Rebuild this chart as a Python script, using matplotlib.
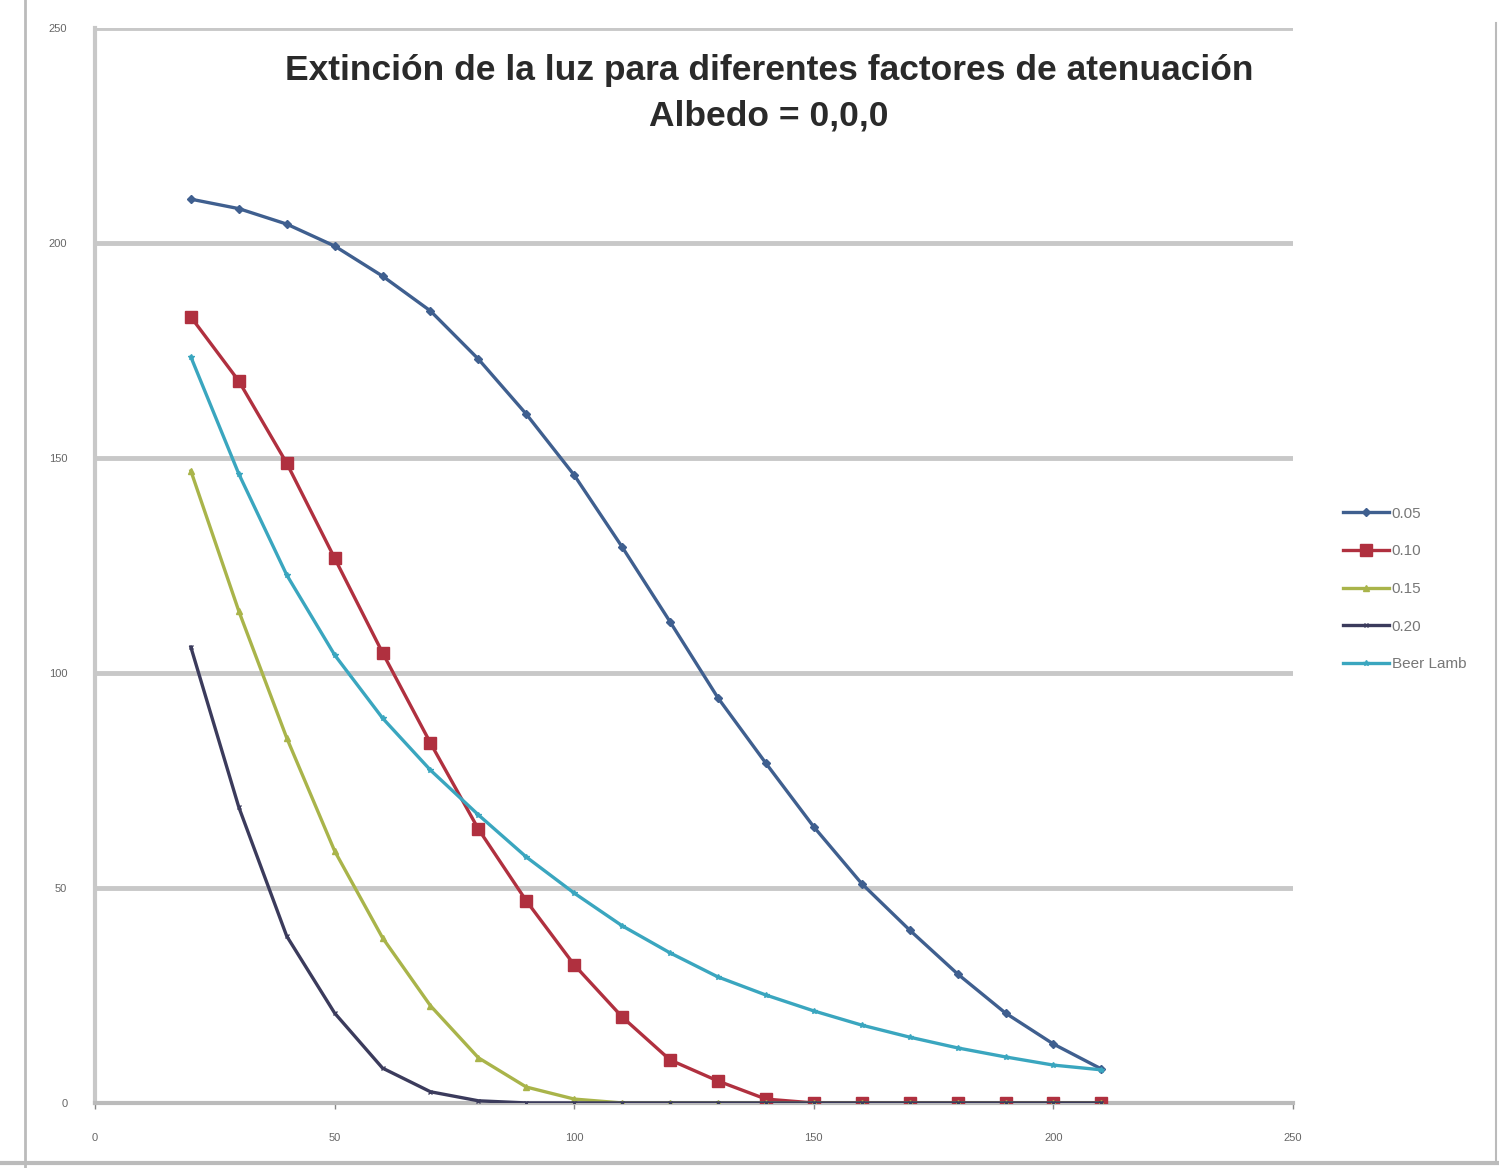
import matplotlib.pyplot as plt

# Distancia recorrida (eje x)
x = [20, 30, 40, 50, 60, 70, 80, 90, 100, 110,
     120, 130, 140, 150, 160, 170, 180, 190, 200, 210]

# Intensidad para cada factor de atenuacion
att_005 = [210.2, 208.0, 204.4, 199.3, 192.3, 184.2, 173.0, 160.2, 146.0, 129.3,
           111.9, 94.2, 79.0, 64.2, 51.0, 40.2, 30.0, 20.9, 13.7, 7.9]
att_010 = [182.8, 167.9, 148.8, 126.7, 104.7, 83.7, 63.7, 47.0, 32.1, 20.0,
           10.0, 5.1, 0.9, 0, 0, 0, 0, 0, 0, 0]
att_015 = [147.0, 114.4, 84.9, 58.6, 38.4, 22.6, 10.5, 3.7, 0.9, 0,
           0, 0, 0, 0, 0, 0, 0, 0, 0, 0]
att_020 = [106.0, 68.8, 38.8, 20.9, 8.1, 2.6, 0.5, 0, 0, 0,
           0, 0, 0, 0, 0, 0, 0, 0, 0, 0]
beer_lamb = [173.5, 146.3, 122.8, 104.2, 89.5, 77.4, 67.0, 57.2, 48.8, 41.2,
             34.9, 29.3, 25.1, 21.4, 18.1, 15.3, 12.8, 10.7, 8.8, 7.7]

labels = ['0.05', '0.10', '0.15', '0.20', 'Beer Lamb']
ticks = [0, 50, 100, 150, 200, 250]

plt.rcParams['font.family'] = ['Liberation Sans', 'DejaVu Sans']

fig = plt.figure(figsize=(14.99, 11.68), dpi=100)
ax = fig.add_axes([0.0634, 0.0557, 0.7992, 0.9203])

series = [att_005, att_010, att_015, att_020, beer_lamb]
colors = ['#3f5f8f', '#b0303f', '#a9b44a', '#3b3b5c', '#3aa6bf']
markers = ['D', 's', '^', 'x', '*']
msizes = [4, 8, 5, 3.5, 4]

for ys, lab, c, m, ms in zip(series, labels, colors, markers, msizes):
    ax.plot(x, ys, color=c, lw=2.4, marker=m, ms=ms, mew=1.0,
            label=lab, zorder=3)

ax.set_xlim(0, 250)
ax.set_ylim(0, 250)
ax.set_xticks(ticks)
ax.set_yticks(ticks)
ax.tick_params(labelsize=8, colors='#888888', labelcolor='#666666',
               length=4, width=1)
ax.tick_params(axis='y', length=0, pad=20)
ax.tick_params(axis='x', pad=18)
ax.yaxis.grid(True, color='#c8c8c8', lw=3.5, zorder=0)
ax.set_axisbelow(True)

for side in ['top', 'right']:
    ax.spines[side].set_visible(False)
ax.spines['left'].set_color('#c8c8c8')
ax.spines['left'].set_linewidth(3)
ax.spines['bottom'].set_color('#bbbbbb')
ax.spines['bottom'].set_linewidth(3)

fig.text(0.513, 0.940, 'Extinción de la luz para diferentes factores de atenuación',
         ha='center', va='center', fontsize=25.5, fontweight='bold', color='#2a2a2a')
fig.text(0.513, 0.901, 'Albedo = 0,0,0',
         ha='center', va='center', fontsize=25.5, fontweight='bold', color='#2a2a2a')

ax.legend(loc='center left', bbox_to_anchor=(1.03, 0.478), frameon=False,
          fontsize=11, labelcolor='#777777', handlelength=3.0,
          labelspacing=1.55, handletextpad=0.2, markerscale=1.0)

# marco de la hoja
fig.add_artist(plt.Line2D([0.998, 0.998], [0.005, 0.98], color='#bbbbbb', lw=1.5))
fig.add_artist(plt.Line2D([0.0, 1.0], [0.004, 0.004], color='#bbbbbb', lw=3))
fig.add_artist(plt.Line2D([0.017, 0.017], [0.0, 1.0], color='#bbbbbb', lw=2))

fig.savefig('out.png', dpi=100, facecolor='white')
